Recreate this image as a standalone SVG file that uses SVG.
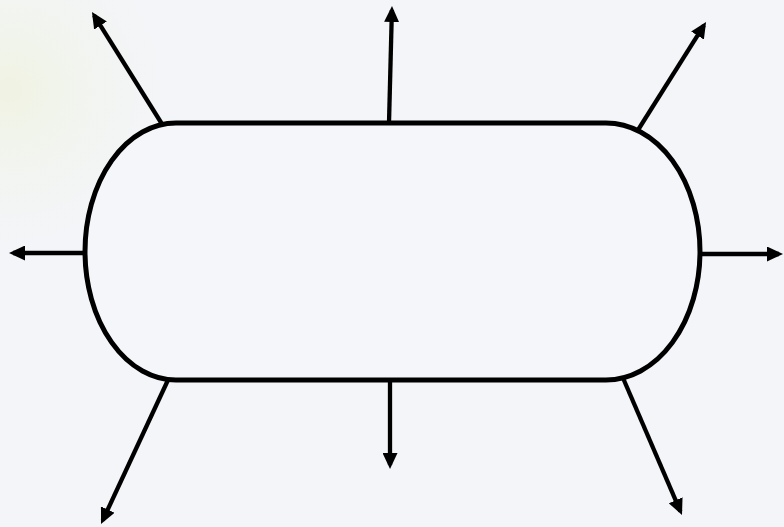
<svg xmlns="http://www.w3.org/2000/svg" width="784" height="527" viewBox="0 0 784 527">
  <defs>
    <radialGradient id="glow" cx="10" cy="90" r="200" gradientUnits="userSpaceOnUse">
      <stop offset="0" stop-color="#eef2d8" stop-opacity="0.7"/>
      <stop offset="0.5" stop-color="#f1f4e6" stop-opacity="0.35"/>
      <stop offset="1" stop-color="#f3f5f9" stop-opacity="0"/>
    </radialGradient>
    <marker id="arrow" markerUnits="userSpaceOnUse" markerWidth="16" markerHeight="15" viewBox="0 0 16 15" refX="12" refY="7.5" orient="auto">
      <path d="M0,0 L16,7.5 L0,15 z" fill="#000"/>
    </marker>
  </defs>
  <style>
    .conn { stroke: #000; stroke-width: 4.3; fill: none; marker-end: url(#arrow); }
    .shape { stroke: #000; stroke-width: 5; fill: #f4f6fa; }
  </style>
  <rect width="784" height="527" fill="#f3f5f9"/>
  <rect width="784" height="527" fill="url(#glow)"/>
  <g id="connectors">
    <line class="conn" x1="162" y1="124" x2="94.1" y2="15.4"/>
    <line class="conn" x1="389" y1="123" x2="391.9" y2="10"/>
    <line class="conn" x1="638" y1="130" x2="703.9" y2="25.4"/>
    <line class="conn" x1="86" y1="253" x2="13" y2="253"/>
    <line class="conn" x1="699" y1="254" x2="779" y2="254"/>
    <line class="conn" x1="168" y1="380" x2="102.7" y2="520.4"/>
    <line class="conn" x1="390" y1="380" x2="390" y2="465"/>
    <line class="conn" x1="623" y1="378" x2="680.4" y2="511.3"/>
  </g>
  <g id="node-center">
    <path class="shape" d="M176,123 H606 A94,128.5 0 0 1 606,380 H176 A91,128.5 0 0 1 176,123 Z"/>
  </g>
</svg>
